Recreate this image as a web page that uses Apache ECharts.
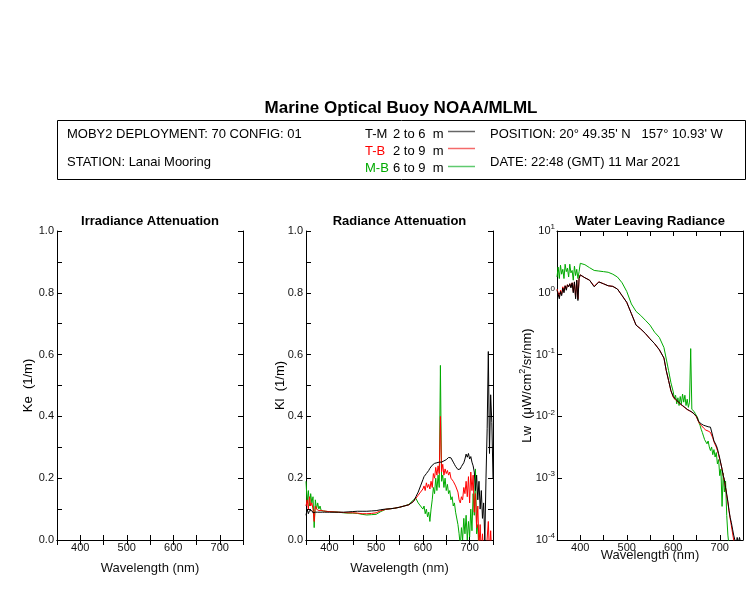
<!DOCTYPE html>
<html>
<head>
<meta charset="utf-8">
<script src="https://cdn.jsdelivr.net/npm/echarts@6/dist/echarts.min.js"></script>
<style>html,body{margin:0;padding:0;background:#fff}#c{width:750px;height:600px}</style>
</head>
<body>
<div id="c"></div>
<script>
// ---- data ----
var wavelength = [350,352.5,355,357.5,360,362.5,365,367.5,370,372.5,375,377.5,380,382.5,385,387.5,390,392.5,395,397.5,
 400,410,420,430,440,450,460,470,480,490,500,510,520,530,540,550,560,570,580,585,590,595,
 600,602.5,605,607.5,610,612.5,615,617.5,620,622.5,625,627.5,630,632.5,635,637.5,640,642.5,645,647.5,650,652.5,655,657.5,
 660,662.5,665,667.5,670,672.5,675,677.5,680,682.5,685,687.5,690,692.5,695,697.5,700,702.5,705,707.5,710,712.5,715,717.5,
 720,722.5,725,727.5,730,732.5,735,737.5,740,742.5,745,747.5,750];

// Radiance attenuation Kl (1/m)
var klTM = [0.08,0.1,0.085,0.095,0.09,0.095,0.088,0.092,0.09,0.093,0.09,0.092,0.09,0.091,0.09,0.092,0.09,0.091,0.09,0.091,
 0.09,0.09,0.09,0.09,0.091,0.092,0.093,0.093,0.093,0.094,0.095,0.098,0.1,0.101,0.103,0.106,0.11,0.114,0.125,0.14,0.155,0.175,
 0.195,0.205,0.21,0.215,0.22,0.225,0.232,0.238,0.242,0.245,0.248,0.25,0.25,0.251,0.252,0.253,0.252,0.254,0.256,0.258,0.26,0.264,0.267,0.268,
 0.266,0.26,0.252,0.245,0.238,0.232,0.228,0.226,0.23,0.238,0.242,0.25,0.262,0.278,0.268,0.28,0.262,0.27,0.252,0.24,0.22,0.16,0.21,0.13,
 0.19,0.1,0.16,0.07,0.12,0.0,0.2,0.36,0.61,0.28,0.47,0.38,0.2];
var klTB = [0.11,0.13,0.1,0.14,0.11,0.12,0.1,0.06,0.11,0.1,0.105,0.095,0.1,0.096,0.098,0.094,0.095,0.093,0.094,0.092,
 0.092,0.091,0.09,0.089,0.088,0.088,0.087,0.085,0.085,0.086,0.088,0.095,0.099,0.101,0.103,0.106,0.11,0.114,0.125,0.135,0.145,0.155,
 0.165,0.175,0.16,0.185,0.17,0.18,0.165,0.19,0.17,0.215,0.2,0.235,0.21,0.24,0.215,0.4,0.22,0.245,0.21,0.23,0.215,0.225,0.21,0.22,
 0.2,0.205,0.19,0.185,0.175,0.17,0.155,0.13,0.12,0.14,0.13,0.17,0.15,0.19,0.14,0.205,0.12,0.22,0.16,0.21,0.09,0.15,0.04,0.11,
 -0.02,0.05,-0.05,0.02,-0.05,-0.05,-0.05,-0.05,0.06,-0.05,0.03,-0.05,-0.05];
var klMB = [0.19,0.12,0.16,0.11,0.15,0.12,0.14,0.04,0.13,0.1,0.12,0.1,0.11,0.095,0.1,0.094,0.096,0.093,0.094,0.092,
 0.092,0.091,0.09,0.088,0.087,0.087,0.086,0.083,0.081,0.082,0.083,0.092,0.099,0.101,0.103,0.106,0.11,0.115,0.13,0.135,0.12,0.11,
 0.1,0.11,0.085,0.1,0.075,0.09,0.06,0.1,0.13,0.17,0.15,0.2,0.16,0.21,0.17,0.565,0.19,0.21,0.17,0.2,0.16,0.18,0.15,0.16,
 0.13,0.14,0.11,0.12,0.09,0.09,0.05,0.02,-0.02,0.04,0.0,0.07,0.02,0.08,0.0,0.06,0.01,0.1,0.03,0.15,0.08,0.23,0.02,0.05,
 -0.05,null,null,null,null,null,null,null,null,null,null,null,null];

// Water leaving radiance Lw (uW/cm^2/sr/nm)
var lwTM = [1.1,0.95,0.8,1.05,0.9,1.2,1.0,1.3,1.1,1.35,1.25,1.4,1.2,1.45,1.0,1.5,0.8,1.6,0.75,1.7,
 1.95,1.75,1.6,1.25,1.5,1.4,1.3,1.27,1.15,0.9,0.7,0.46,0.3,0.26,0.22,0.18,0.15,0.12,0.088,0.055,0.038,0.026,
 0.021,0.02,0.019,0.018,0.0175,0.017,0.016,0.0155,0.015,0.0145,0.014,0.0135,0.013,0.0127,0.0124,0.012,0.0118,0.0115,0.011,0.0105,0.01,0.009,0.0082,0.0078,
 0.0076,0.0074,0.0072,0.0071,0.007,0.0069,0.0068,0.0068,0.0067,0.0063,0.0048,0.004,0.0037,0.0034,0.003,0.0025,0.0021,0.0017,0.0014,0.0011,0.00095,0.0007,0.00055,0.00042,
 0.0003,0.00023,0.00019,0.00015,0.00012,0.0001,0.000085,0.00011,0.00009,0.00011,0.00009,null,null];
var lwTB = [1.15,1.0,0.85,1.1,0.95,1.25,1.05,1.3,1.15,1.35,1.25,1.4,1.25,1.45,1.05,1.5,0.85,1.6,0.8,1.7,
 1.95,1.75,1.6,1.28,1.5,1.4,1.3,1.27,1.15,0.9,0.7,0.46,0.3,0.26,0.22,0.18,0.15,0.12,0.088,0.055,0.038,0.026,
 0.0205,0.0195,0.0185,0.0178,0.0172,0.0167,0.0158,0.0153,0.0148,0.0143,0.0138,0.0134,0.0129,0.0126,0.0123,0.0119,0.0117,0.0114,0.0109,0.0104,0.0098,0.0088,0.008,0.0075,
 0.0072,0.0068,0.0065,0.0063,0.006,0.0059,0.0058,0.0057,0.0055,0.0052,0.0045,0.0039,0.0035,0.0032,0.0028,0.0024,0.002,0.0017,0.0014,0.0011,0.0009,0.0007,0.00053,0.0004,
 0.00029,0.00022,0.00017,0.00013,0.0001,0.00008,null,null,null,null,null,null,null];
var lwMB = [1.8,2.6,1.7,2.8,2.0,2.4,1.7,2.9,2.2,2.5,1.8,2.9,2.1,2.3,1.6,2.7,1.9,2.4,1.7,2.2,
 3.0,2.85,2.55,2.3,2.25,2.2,2.15,2.0,1.8,1.45,1.05,0.66,0.5,0.43,0.36,0.3,0.23,0.19,0.13,0.085,0.055,0.035,
 0.025,0.019,0.022,0.016,0.02,0.015,0.021,0.016,0.023,0.017,0.022,0.015,0.019,0.014,0.017,0.125,0.013,0.014,0.012,0.011,0.0105,0.0095,0.008,0.0072,
 0.0062,0.0055,0.0048,0.0042,0.0045,0.0036,0.004,0.0032,0.0028,0.0032,0.0024,0.0029,0.0022,0.0026,0.0017,0.002,0.0011,0.0014,0.00035,0.0012,0.0006,0.0009,0.00025,0.00012,
 0.00008,null,null,null,null,null,null,null,null,null,null,null,null];

var xTicks = [400,500,600,700];
var panelTitles = ['Irradiance Attenuation','Radiance Attenuation','Water Leaving Radiance'];
var seriesNames = ['M-B','T-B','T-M'];
var seriesColors = ['#00aa00','#ff0000','#000000'];

function pairs(ys){ return wavelength.map(function(w,i){ return [w, ys[i]]; }); }

var FONT = '"Liberation Sans", Arial, sans-serif';
var grids = [
  {left:57, top:231, width:186, height:309},
  {left:306, top:231, width:187, height:309},
  {left:557, top:231, width:186, height:309}
];

function xFmt(v){ return xTicks.indexOf(v) >= 0 ? String(v) : ''; }
function yFmt(v){ var t = Math.round(v*10); return t % 2 === 0 ? (t/10).toFixed(1) : ''; }
function logFmt(v){ var e = Math.round(Math.log(v)/Math.LN10); return '{b|10}{s|' + e + '}'; }

var axisLineS = {show:true, lineStyle:{color:'#000', width:1}};
var tickS = {show:true, inside:true, length:5, lineStyle:{color:'#000', width:1}};

var xAxes = [], yAxes = [];
grids.forEach(function(g, i){
  xAxes.push({gridIndex:i, type:'value', min:350, max:750, interval:50, position:'bottom',
    axisLine:axisLineS, axisTick:tickS, splitLine:{show:false},
    axisLabel:{formatter:xFmt, margin:2, color:'#111', fontSize:11, fontFamily:FONT, showMinLabel:true, showMaxLabel:true},
    name:'Wavelength (nm)', nameLocation:'middle', nameGap: i===2 ? 15 : 28, nameMoveOverlap:false,
    nameTextStyle:{fontSize:13, color:'#111', fontFamily:FONT, verticalAlign:'middle'}});
  xAxes.push({gridIndex:i, type:'value', min:350, max:750, interval:50, position:'top',
    axisLine:axisLineS, axisTick:tickS, axisLabel:{show:false}, splitLine:{show:false}});
  if (i < 2) {
    yAxes.push({gridIndex:i, type:'value', min:0, max:1, interval:0.1, position:'left',
      axisLine:axisLineS, axisTick:tickS, splitLine:{show:false},
      axisLabel:{formatter:yFmt, margin:3, color:'#111', fontSize:11, fontFamily:FONT},
      name: i===0 ? 'Ke  (1/m)' : 'Kl  (1/m)', nameLocation:'middle', nameGap: i===0 ? 29 : 26, nameRotate:90, nameMoveOverlap:false,
      nameTextStyle:{fontSize:13, color:'#000', fontFamily:FONT, verticalAlign:'middle'}});
    yAxes.push({gridIndex:i, type:'value', min:0, max:1, interval:0.1, position:'right',
      axisLine:axisLineS, axisTick:tickS, axisLabel:{show:false}, splitLine:{show:false}});
  } else {
    yAxes.push({gridIndex:i, type:'log', logBase:10, min:0.0001, max:10, position:'left',
      axisLine:axisLineS, axisTick:tickS, splitLine:{show:false}, minorTick:{show:false},
      axisLabel:{formatter:logFmt, margin:2, color:'#111', fontFamily:FONT,
        rich:{b:{fontSize:11, fontFamily:FONT, color:'#111'}, s:{fontSize:8, fontFamily:FONT, color:'#111', padding:[0,0,8,0]}}},
      name:'{a|Lw  (\u03bcW/cm}{s|2}{a|/sr/nm)}', nameLocation:'middle', nameGap:30, nameRotate:90, nameMoveOverlap:false,
      nameTextStyle:{fontFamily:FONT, verticalAlign:'middle', rich:{a:{fontSize:13, color:'#000', fontFamily:FONT}, s:{fontSize:9, color:'#000', fontFamily:FONT, padding:[0,0,9,0]}}}});
    yAxes.push({gridIndex:i, type:'log', logBase:10, min:0.0001, max:10, position:'right',
      axisLine:axisLineS, axisTick:tickS, axisLabel:{show:false}, splitLine:{show:false}, minorTick:{show:false}});
  }
});

var klData = [klMB, klTB, klTM];
var lwData = [lwMB, lwTB, lwTM];
var series = [];
klData.forEach(function(d, k){
  series.push({type:'line', name:seriesNames[k], xAxisIndex:2, yAxisIndex:2, data:pairs(d), showSymbol:false, symbol:'none',
    clip:true, connectNulls:false, lineStyle:{color:seriesColors[k], width:1}, animation:false, silent:true});
});
lwData.forEach(function(d, k){
  series.push({type:'line', name:seriesNames[k], xAxisIndex:4, yAxisIndex:4, data:pairs(d), showSymbol:false, symbol:'none',
    clip:true, connectNulls:false, lineStyle:{color:seriesColors[k], width:1}, animation:false, silent:true});
});

var titles = [{text:'Marine Optical Buoy NOAA/MLML', left:401, top:100, textAlign:'center', padding:0,
  textStyle:{fontSize:17, fontWeight:'bold', color:'#000', fontFamily:FONT}}];
grids.forEach(function(g, i){
  titles.push({text:panelTitles[i], left:g.left + g.width/2, top:215, textAlign:'center', padding:0,
    textStyle:{fontSize:13, fontWeight:'bold', color:'#000', fontFamily:FONT}});
});

function txt(x, y, s, color){ return {type:'text', x:x, y:y, style:{text:s, fill:color || '#000', font:'13px ' + FONT, verticalAlign:'middle', align:'left'}}; }

var graphics = [
  {type:'rect', shape:{x:57.5, y:120.5, width:688, height:59}, style:{fill:'none', stroke:'#000', lineWidth:1}},
  txt(67, 134, 'MOBY2 DEPLOYMENT: 70 CONFIG: 01'),
  txt(67, 162.5, 'STATION: Lanai Mooring'),
  txt(365, 134, 'T-M', '#000'), txt(393, 134, '2 to 6  m'),
  txt(365, 151, 'T-B', '#ff0000'), txt(393, 151, '2 to 9  m'),
  txt(365, 168, 'M-B', '#00aa00'), txt(393, 168, '6 to 9  m'),
  {type:'line', shape:{x1:448, y1:131.5, x2:475, y2:131.5}, style:{stroke:'#666', lineWidth:1.5}},
  {type:'line', shape:{x1:448, y1:148.5, x2:475, y2:148.5}, style:{stroke:'#f46a6a', lineWidth:1.5}},
  {type:'line', shape:{x1:448, y1:166.5, x2:475, y2:166.5}, style:{stroke:'#5fca6f', lineWidth:1.5}},
  txt(490, 134.5, "POSITION: 20\u00b0 49.35' N   157\u00b0 10.93' W"),
  txt(490, 162.5, 'DATE: 22:48 (GMT) 11 Mar 2021')
];

var chart = echarts.init(document.getElementById('c'), null, {renderer:'canvas'});
chart.setOption({
  backgroundColor:'#fff',
  animation:false,
  title:titles,
  grid:grids.map(function(g){ return {left:g.left, top:g.top, width:g.width, height:g.height, containLabel:false}; }),
  xAxis:xAxes,
  yAxis:yAxes,
  series:series,
  graphic:graphics
});
</script>
</body>
</html>
